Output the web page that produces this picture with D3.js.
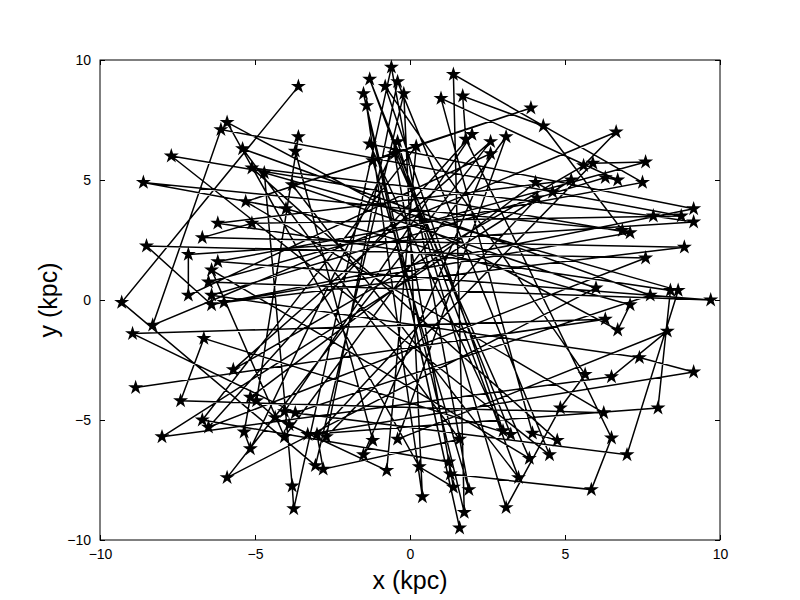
<!DOCTYPE html>
<html>
<head>
<meta charset="utf-8">
<script src="https://cdn.jsdelivr.net/npm/d3@7"></script>
<style>
  html, body { margin: 0; padding: 0; background: #fff; overflow: hidden; }
  svg { display: block; }
  text { font-family: "Liberation Sans", Arial, sans-serif; }
</style>
</head>
<body>
<div id="chart"></div>
<script>
// orbit positions, in path order (kpc)
const xValues = [
  -3.6, -9.3, -3.05, -0.2, 0.4, -1.4, 1.6, -1.5, 1.75, 1.4,
  7.5, -6.2, 9.7, -6.5, 7.6, 5.9, -2.7, -0.4, 4.5, -7.7,
  7.1, -6.0, 8.85, -6.7, -5.1, 8.75, -6.1, -8.3, 6.65, 5.6,
  -5.7, 2.6, -5.9, 6.0, -3.8, 3.5, -1.3, 3.25, -6.65, -7.4,
  6.25, -5.3, 3.9, -1.2, 1.9, -0.6, -3.75, -3.8, -4.7, 8.65,
  7.0, -4.05, 2.0, -6.5, 7.6, -8.5, -6.4, 9.15, -1.3, 3.0,
  -0.8, 5.65, 4.85, 3.1,
  -0.4, -5.15, -5.35, -5.15, 4.05, 4.6, 5.2, -6.2, 8.4, 8.0,
  -3.3, 9.15, 7.4, -6.4, 6.3, 6.7, 1.0, 3.95, 4.75, -5.1,
  7.85, 9.15, -7.15, -7.15, 2.6, -1.5, -1.2, -3.7, -3.6, -4.95,
  -4.35, -3.9, -0.75, 0.2, -6.7, 1.25, 1.3, 5.85, 6.5, 1.8,
  1.7, 4.3, 6.85, -8.6, -4.0, 7.1, 6.7, -5.9, 0.3, 1.4,
  -0.5, 3.85, -6.4, -4.05, 3.1, -0.4, 8.3, 6.5, -8.0, 4.1,
  -3.0, -2.8, 1.6, -5.4, 7.75, -3.7, -8.95, 6.3, -8.85
];
const yValues = [
  8.9, -0.1, -6.9, 8.6, -8.2, 8.1, -9.5, 8.6, -8.85, 9.4,
  4.9, 1.6, 0.0, 0.75, 5.75, 5.7, -5.7, 9.1, -6.45, 6.0,
  2.8, -0.1, 2.2, 2.6, 3.2, 3.5, 7.1, -1.05, 7.0, 5.6,
  -2.9, 6.6, -7.4, 0.5, 4.8, -7.4, 9.2, -5.6, -1.6, -4.2,
  -4.7, 4.1, 8.0, 5.8, -7.9, 9.7, -8.7, -7.75, 5.3, 0.4,
  -6.45, -4.65, 6.9, -5.3, 1.75, 2.25, -0.2, 3.8, 6.5, -5.45,
  8.9, -3.1, -4.5, -8.65,
  6.6, -6.2, -5.5, -4.05, 4.9, 4.5, 5.0, 3.2, 0.4, -4.5,
  -5.6, -3.0, -2.4, 0.2, 5.1, 5.0, 8.4, -5.55, -5.85, 5.5,
  3.5, 3.25, 1.9, 0.2, 6.1, -6.45, -5.85, 6.2, 6.8, -4.2,
  -4.9, -5.2, -7.1, 6.4, -5.0, -6.75, -7.25, -7.9, -5.75, 6.7,
  8.5, 7.25, 2.9, 4.9, 3.8, -0.2, -1.25, 7.4, -6.95, -7.8,
  6.1, -6.6, 1.25, -5.7, 6.8, -5.8, -1.3, -3.2, -5.7, 4.25,
  -5.6, -7.05, -5.8, 6.3, 0.2, -4.7, -1.4, -0.8, -3.65
];
const tickValues = [-10, -5, 0, 5, 10];

const width = 800, height = 600;
const margin = {top: 60, right: 80, bottom: 60, left: 100};
const innerWidth = width - margin.left - margin.right;
const innerHeight = height - margin.top - margin.bottom;

const points = xValues.map((x, i) => ({x: x, y: yValues[i]}));

const svg = d3.select('#chart').append('svg')
  .attr('width', width)
  .attr('height', height);

const g = svg.append('g')
  .attr('transform', `translate(${margin.left},${margin.top})`);

const x = d3.scaleLinear().domain([-10, 10]).range([0, innerWidth]);
const y = d3.scaleLinear().domain([-10, 10]).range([innerHeight, 0]);

const fmt = d => String(d).replace('-', '\u2212');

// path
const line = d3.line().x(d => x(d.x)).y(d => y(d.y));
g.append('path')
  .datum(points)
  .attr('fill', 'none')
  .attr('stroke', '#000')
  .attr('stroke-width', 1.5)
  .attr('d', line);

// star markers
g.selectAll('path.star')
  .data(points)
  .enter()
  .append('path')
  .attr('class', 'star')
  .attr('d', d3.symbol().type(d3.symbolStar).size(70))
  .attr('transform', d => `translate(${x(d.x)},${y(d.y)})`)
  .attr('fill', '#000');

// axes, ticks pointing inward on all four sides
g.append('g')
  .attr('transform', `translate(0,${innerHeight})`)
  .call(d3.axisBottom(x).tickValues(tickValues).tickSizeInner(-5).tickSizeOuter(0).tickPadding(9).tickFormat(fmt));
g.append('g')
  .attr('class', 'mirror')
  .call(d3.axisTop(x).tickValues(tickValues).tickSizeInner(-5).tickSizeOuter(0));
g.append('g')
  .call(d3.axisLeft(y).tickValues(tickValues).tickSizeInner(-5).tickSizeOuter(0).tickPadding(9).tickFormat(fmt));
g.append('g')
  .attr('class', 'mirror')
  .attr('transform', `translate(${innerWidth},0)`)
  .call(d3.axisRight(y).tickValues(tickValues).tickSizeInner(-5).tickSizeOuter(0));

g.selectAll('.mirror text').remove();
g.selectAll('.domain').remove();
g.selectAll('.tick line').attr('stroke', '#000');
g.selectAll('.tick text').attr('font-size', 14).attr('fill', '#000')
  .attr('font-family', '"Liberation Sans", Arial, sans-serif');

g.append('rect')
  .attr('width', innerWidth)
  .attr('height', innerHeight)
  .attr('fill', 'none')
  .attr('stroke', '#000')
  .attr('stroke-width', 1);

svg.append('text')
  .attr('x', margin.left + innerWidth / 2)
  .attr('y', 589)
  .attr('text-anchor', 'middle')
  .attr('font-size', 25)
  .text('x (kpc)');

svg.append('text')
  .attr('transform', `translate(57,${margin.top + innerHeight / 2}) rotate(-90)`)
  .attr('text-anchor', 'middle')
  .attr('font-size', 25)
  .text('y (kpc)');
</script>
</body>
</html>
